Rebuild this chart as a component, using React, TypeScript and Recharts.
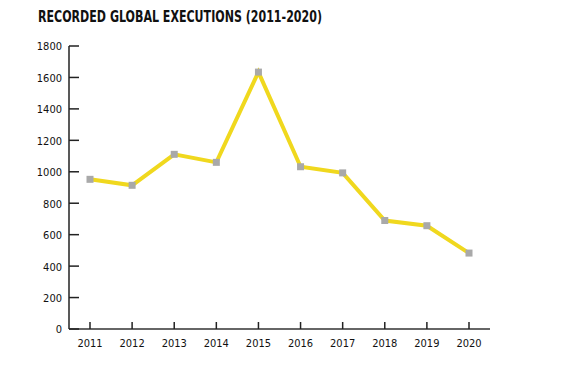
import { LineChart, Line, XAxis, YAxis } from "recharts";

const years = ["2011", "2012", "2013", "2014", "2015", "2016", "2017", "2018", "2019", "2020"];
const executions = [952, 914, 1111, 1060, 1634, 1032, 993, 690, 657, 483];
const yTicks = [0, 200, 400, 600, 800, 1000, 1200, 1400, 1600, 1800];

const data = years.map((year, i) => ({ year, value: executions[i] }));

const FONT = '"Liberation Sans Narrow", "DejaVu Sans Condensed", "Roboto", sans-serif';

function YTick({ x, y, payload }: any) {
  const axisX = x + 7;
  return (
    <g>
      <line x1={axisX} x2={axisX + 10} y1={y} y2={y} stroke="#222" strokeWidth={1.5} />
      <text x={x} y={y} dy="0.4em" textAnchor="end" fontSize={11} fill="#111" fontFamily={FONT}>
        {payload.value}
      </text>
    </g>
  );
}

function XTick({ x, y, payload }: any) {
  const axisY = y - 10;
  return (
    <g>
      <line x1={x} x2={x} y1={axisY} y2={axisY - 7} stroke="#222" strokeWidth={1.5} />
      <text x={x} y={y} dy="0.7em" textAnchor="middle" fontSize={11} fill="#111" fontFamily={FONT}>
        {payload.value}
      </text>
    </g>
  );
}

function SquareDot({ cx, cy }: any) {
  return <rect x={cx - 3.5} y={cy - 3.5} width={7} height={7} fill="#a9a9a9" />;
}

export default function App() {
  return (
    <div style={{ position: "absolute", left: 0, top: 0, width: 573, height: 365, background: "#fff" }}>
      <svg width={573} height={30} style={{ position: "absolute", left: 0, top: 0 }}>
        <text
          x={38}
          y={22}
          fontSize={15.5}
          fontWeight="bold"
          fill="#111"
          fontFamily={FONT}
          textLength={284}
          lengthAdjust="spacingAndGlyphs"
        >
          RECORDED GLOBAL EXECUTIONS (2011-2020)
        </text>
      </svg>
      <div style={{ position: "absolute", left: 0, top: 0 }}>
        <LineChart width={573} height={365} data={data} margin={{ top: 46, right: 83, bottom: 6, left: 0 }}>
          <XAxis
            dataKey="year"
            height={30}
            padding={{ left: 21, right: 21 }}
            axisLine={{ stroke: "#333", strokeWidth: 1.5 }}
            tickLine={false}
            tickSize={0}
            tickMargin={10}
            tick={<XTick />}
            interval={0}
          />
          <YAxis
            width={69}
            domain={[0, 1800]}
            ticks={yTicks}
            axisLine={{ stroke: "#222", strokeWidth: 1.5 }}
            tickLine={false}
            tickSize={0}
            tickMargin={7}
            tick={<YTick />}
            interval={0}
          />
          <Line
            type="linear"
            dataKey="value"
            stroke="#f0d81e"
            strokeWidth={4}
            dot={<SquareDot />}
            activeDot={false}
            isAnimationActive={false}
          />
        </LineChart>
      </div>
    </div>
  );
}
